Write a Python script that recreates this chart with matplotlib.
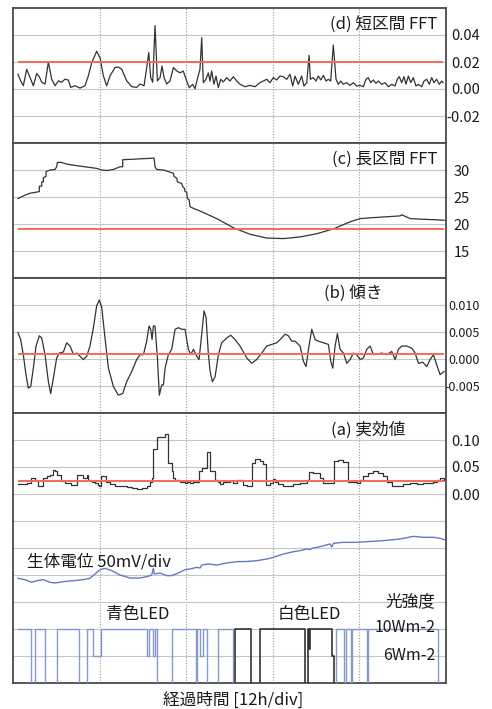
import matplotlib.pyplot as plt

plt.rcParams['font.family'] = ['Noto Sans CJK JP', 'DejaVu Sans']

# elapsed time in hours (12 h per division)
t_d = [0.69, 1.06, 1.43, 1.90, 2.36, 2.82, 3.28, 3.65, 3.98, 4.44, 4.90, 5.36, 5.82, 6.29,
       6.75, 7.21, 7.67, 8.00, 8.60, 9.29, 9.98, 10.44, 10.91, 11.60, 12.06, 12.52, 12.98,
       13.45, 14.14, 14.60, 15.06, 15.76, 16.45, 17.14, 17.60, 18.16, 18.53, 18.81, 19.08,
       19.36, 19.68, 20.01, 20.38, 20.65, 20.93, 21.30, 21.76, 22.22, 22.69, 23.15,
       23.60, 24.07, 24.43, 24.90, 25.22, 25.54, 25.91, 26.15, 26.37, 26.74, 27.06, 27.30,
       27.53, 27.85, 28.13, 28.45, 28.78, 29.14, 29.61, 30.07, 30.53, 31.00, 31.46, 32.15,
       32.84, 33.53, 34.23, 34.68, 35.16, 35.61, 36.07, 36.54, 37.00, 37.46, 37.93, 38.38,
       38.76, 39.08, 39.53, 40.00, 40.32, 40.70, 41.03, 41.20, 41.61, 41.99, 42.31, 42.64,
       43.00, 43.37, 43.69, 44.02, 44.38, 44.76, 45.08, 45.41, 45.77, 46.24, 46.70, 47.16,
       47.63, 48.08, 48.54, 48.92, 49.23, 49.57, 49.93, 50.30, 50.62, 51.09, 51.55, 52.01,
       52.48, 52.93, 53.25, 53.53, 53.86, 54.18, 54.46, 54.78, 55.11, 55.47, 55.84, 56.16,
       56.63, 56.95, 57.33, 57.69, 58.02, 58.34, 58.71, 59.07, 59.40, 59.59]
fft_short = [0.011, 0.006, 0.0025, 0.0146, 0.0085, 0.0024, 0.0115, 0.009, 0.005, 0.0037,
             0.020, 0.0073, 0.0024, 0.006, 0.005, 0.0073, 0.0066, 0.0012, 0.0024, 0.0007,
             0.0024, 0.0098, 0.0195, 0.028, 0.023, 0.0098, 0.0024, 0.0098, 0.0159, 0.0163,
             0.0146, 0.006, 0.0017, 0.0012, 0.0037, 0.0024, 0.0159, 0.027, 0.0085, 0.005,
             0.047, 0.006, 0.0085, 0.017, 0.0085, 0.0037, 0.006, 0.0159, 0.0134, 0.012,
             0.0133, 0.0059, 0.001, 0.0035, 0.0002, 0.0072, 0.0146, 0.038, 0.0047, 0.0072,
             0.012, 0.0059, 0.0133, 0.0035, 0.0096, 0.001, 0.0072, 0.0052, 0.0084, 0.0059,
             0.0091, 0.0059, 0.0035, 0.0017, 0.0027, 0.0017, 0.0047, 0.0059, 0.0072, 0.0047,
             0.0084, 0.0067, 0.0096, 0.0091, 0.0072, 0.0109, 0.0022, 0.0096, 0.0035, 0.0096,
             0.0022, 0.0047, 0.025, 0.0072, 0.0084, 0.0059, 0.0096, 0.0067, 0.0101, 0.0059,
             0.0072, 0.0059, 0.0325, 0.0072, 0.0035, 0.0059, 0.0035, 0.0047, 0.0027, 0.0047,
             0.0022, 0.0027, 0.0017, 0.0072, 0.0084, 0.0047, 0.0067, 0.0042, 0.0059, 0.0035,
             0.0047, 0.0017, 0.0035, 0.0022, 0.0072, 0.0091, 0.0047, 0.0091, 0.0035, 0.0096,
             0.0047, 0.0084, 0.0022, 0.0035, 0.0017, 0.0059, 0.0072, 0.0035, 0.0084, 0.0047,
             0.0072, 0.0035, 0.0059, 0.0047]

t_c = [0.69, 0.97, 1.67, 2.36, 2.82, 3.65, 3.65, 3.98, 3.98, 4.21, 4.21, 4.58, 4.58, 5.13,
       5.82, 6.05, 6.15, 6.75, 7.44, 8.83, 10.21, 11.60, 12.29, 12.98, 13.91, 14.83, 15.20,
       15.20, 16.68, 18.07, 19.54, 19.68, 19.91, 20.84, 21.53, 22.22, 22.32, 22.69, 22.78,
       23.38, 23.52, 23.75, 23.84, 24.07, 24.16, 24.40, 24.53, 25.00, 25.92, 28.23, 30.54,
       32.85, 35.16, 37.47, 39.78, 42.09, 44.40, 46.71, 48.10, 49.02, 51.33, 53.64, 53.87,
       55.03, 56.41, 58.26, 59.74]
fft_long = [24.7, 24.9, 25.35, 25.7, 25.8, 26.0, 27.0, 27.0, 27.8, 27.8, 28.6, 28.8, 29.7,
            30.0, 30.1, 30.6, 31.4, 31.4, 31.1, 30.8, 30.55, 30.3, 30.0, 29.9, 30.1, 30.6,
            30.6, 31.9, 32.0, 32.1, 32.2, 30.6, 30.1, 30.0, 29.7, 29.4, 28.8, 28.5, 27.8,
            27.5, 26.9, 26.6, 26.0, 25.9, 24.7, 24.5, 23.2, 22.9, 22.4, 21.0, 19.3, 18.1,
            17.4, 17.3, 17.6, 18.2, 19.1, 20.4, 21.0, 21.1, 21.3, 21.5, 21.7, 21.0, 20.9,
            20.8, 20.7]

t_b = [0.69, 1.06, 1.43, 1.80, 2.13, 2.45, 2.82, 3.19, 3.65, 3.98, 4.44, 4.90, 5.22, 5.59,
       6.05, 6.42, 6.98, 7.44, 7.90, 8.36, 8.83, 9.29, 9.75, 10.21, 10.67, 11.14, 11.60,
       11.97, 12.29, 12.75, 13.22, 13.91, 14.60, 15.20, 15.76, 16.45, 17.14, 17.60, 18.07,
       18.53, 18.85, 19.08, 19.27, 19.45, 19.68, 20.01, 20.28, 20.61, 20.84, 21.07, 21.53,
       21.99, 22.46, 22.92, 23.38, 23.84, 24.30, 24.63, 25.00, 25.46, 25.78, 26.15, 26.47,
       26.75, 27.08, 27.31, 27.63, 28.00, 28.46, 28.92, 29.62, 30.17, 30.77, 31.46, 32.39,
       33.08, 33.77, 34.47, 35.16, 35.85, 36.55, 37.24, 37.70, 38.16, 38.62, 39.09, 39.78,
       40.24, 40.61, 40.94, 41.40, 41.86, 42.32, 43.01, 43.71, 44.03, 44.31, 44.63, 44.95,
       45.32, 45.79, 46.25, 46.71, 47.17, 47.63, 48.10, 48.56, 49.02, 49.48, 49.94, 50.41,
       51.10, 51.79, 52.49, 52.95, 53.41, 53.87, 54.56, 55.26, 55.72, 56.18, 56.78, 57.34,
       57.80, 58.26, 58.72, 59.18, 59.74]
slope = [0.0049, 0.0036, 0.0008, -0.0029, -0.0054, -0.0051, -0.0017, 0.0024, 0.0043, 0.0039,
         0.0008, -0.0042, -0.0064, -0.0036, 0.0002, 0.0011, 0.0013, 0.003, 0.0024, 0.0009,
         0.0011, 0.0005, -0.0001, 0.0005, 0.0024, 0.0058, 0.0099, 0.0109, 0.0096, 0.0039,
         -0.0017, -0.0051, -0.0067, -0.0064, -0.0042, -0.0023, -0.0001, 0.0008, 0.0008,
         0.0033, 0.0061, 0.0055, 0.0036, 0.0061, 0.0061, 0.0002, -0.0067, -0.0048, -0.0048,
         -0.0017, 0.0008, 0.0018, 0.0055, 0.0058, 0.0055, 0.0055, 0.0018, 0.0008, 0.0018,
         0.0005, -0.0001, 0.0046, 0.0089, 0.0077, 0.0008, -0.0023, -0.0042, -0.0033, 0.0008,
         0.003, 0.0039, 0.0044, 0.0036, 0.0024, 0.0002, -0.0008, -0.0001, 0.0011, 0.0024,
         0.0027, 0.003, 0.0039, 0.0046, 0.0043, 0.0033, 0.0033, 0.0024, -0.0004, -0.0014,
         0.0018, 0.0055, 0.0036, 0.0033, 0.003, 0.0027, -0.0004, -0.0017, 0.0024, 0.0047,
         0.0018, 0.0011, -0.0008, -0.0001, 0.0011, 0.0008, -0.0001, 0.0002, 0.0018, 0.0024,
         0.0008, 0.0009, 0.0011, 0.0008, 0.0014, -0.0001, 0.0018, 0.0024, 0.0024, 0.002,
         0.0011, -0.0008, -0.0006, -0.0014, -0.0001, 0.0008, -0.0011, -0.0029, -0.0023]

t_a = [0.69, 1.90, 2.45, 3.05, 3.51, 4.11, 4.67, 5.13, 5.50, 5.82, 6.15, 6.61, 7.21, 8.00,
       8.83, 8.92, 9.75, 10.21, 10.44, 10.91, 11.37, 11.74, 11.97, 12.20, 12.89, 13.45, 14.14,
       15.06, 15.76, 16.45, 17.14, 17.84, 18.53, 18.99, 19.22, 19.45, 19.91, 21.07, 21.53,
       21.99, 22.22, 22.46, 23.15, 23.84, 24.07, 24.53, 25.00, 25.83, 26.15, 26.84, 27.31,
       28.00, 28.46, 28.69, 29.15, 30.08, 30.54, 31.00, 31.83, 32.39, 33.17, 33.54, 34.24,
       34.70, 35.07, 35.62, 35.99, 36.32, 36.78, 37.47, 38.16, 38.86, 39.78, 40.70, 41.07,
       41.63, 42.32, 42.55, 43.01, 44.49, 45.09, 45.79, 46.48, 47.63, 48.10, 48.56, 49.25,
       49.94, 50.64, 51.33, 51.79, 52.49, 54.10, 55.03, 55.95, 56.87, 58.26, 58.72, 59.18,
       59.74]
rms = [0.019, 0.021, 0.030, 0.026, 0.015, 0.030, 0.033, 0.036, 0.045, 0.042, 0.036, 0.025,
       0.021, 0.017, 0.019, 0.035, 0.030, 0.035, 0.026, 0.023, 0.020, 0.017, 0.015, 0.033,
       0.023, 0.019, 0.015, 0.014, 0.0126, 0.0107, 0.010, 0.012, 0.015, 0.023, 0.030, 0.084,
       0.105, 0.111, 0.058, 0.042, 0.030, 0.026, 0.023, 0.021, 0.023, 0.021, 0.023, 0.042,
       0.048, 0.077, 0.042, 0.026, 0.023, 0.019, 0.023, 0.025, 0.021, 0.026, 0.017, 0.015,
       0.058, 0.065, 0.061, 0.055, 0.017, 0.021, 0.028, 0.023, 0.019, 0.014, 0.015, 0.019,
       0.021, 0.026, 0.040, 0.039, 0.038, 0.030, 0.020, 0.061, 0.063, 0.059, 0.023, 0.020,
       0.026, 0.033, 0.039, 0.042, 0.039, 0.033, 0.023, 0.015, 0.019, 0.020, 0.019, 0.021,
       0.023, 0.026, 0.030, 0.026]

# bio-potential in mV (relative)
t_bio = [0.69, 1.67, 2.59, 3.28, 4.21, 5.13, 5.82, 6.98, 8.36, 9.75, 10.67, 11.37, 12.06,
         12.75, 13.68, 14.83, 16.22, 17.60, 18.53, 19.22, 19.45, 19.59, 20.38, 21.30, 21.99,
         22.92, 23.84, 24.53, 25.46, 25.92, 26.15, 27.08, 28.23, 29.62, 31.00, 32.39, 33.77,
         35.16, 36.08, 37.47, 38.86, 39.78, 40.70, 41.17, 41.40, 42.55, 43.94, 44.17, 44.40,
         45.79, 47.63, 49.02, 51.33, 53.64, 55.49, 56.87, 58.26, 59.18, 59.74]
bio = [43.9, 41.4, 36.4, 39.5, 41.4, 36.4, 35.2, 37.7, 39.5, 41.4, 43.9, 51.9, 59.9, 62.3,
       58.0, 50.0, 44.4, 44.4, 46.9, 50.0, 62.3, 51.9, 53.7, 48.8, 48.8, 53.7, 59.9, 61.1,
       64.2, 63.0, 68.5, 70.4, 68.5, 72.2, 74.7, 75.0, 76.5, 79.6, 82.7, 88.9, 93.2, 95.1,
       98.2, 97.0, 99.4, 102.5, 107.4, 101.9, 108.7, 110.5, 110.5, 111.7, 113.6, 116.7,
       121.6, 119.8, 119.8, 118.0, 115.4]

# light intensity [W/m2], step changes
t_blue = [0.69, 2.45, 3.05, 4.43, 6.14, 9.15, 10.21, 11.13, 12.15, 18.61, 18.89, 19.44,
          19.68, 20.00, 22.07, 25.36, 25.54, 25.91, 26.37, 26.84, 28.45, 30.44, 44.76, 45.87,
          46.15, 46.80, 47.02, 49.01, 49.23, 58.93, 59.59]
blue_led = [10, 0, 10, 0, 10, 0, 10, 6, 10, 6, 10, 6, 10, 0, 10, 0, 10, 6, 10, 0, 10, 0,
            10, 0, 10, 0, 10, 0, 10, 0, 0]
t_white = [0.69, 30.76, 32.94, 34.23, 40.46, 40.88, 41.02, 41.12, 44.25, 44.52, 59.59]
white_led = [0, 10, 0, 10, 0, 10, 7, 10, 6, 0, 0]

thr_d, thr_c, thr_b, thr_a = 0.02, 19.0, 0.001, 0.025

W, H = 492, 709
LINE = '#333333'
RED = '#f26b5b'
SPINE = '#4a4a4a'
TEXT = '#1a1a1a'

fig = plt.figure(figsize=(W / 100, H / 100), dpi=100)


def box(top, bottom):
    return [13 / W, 1 - bottom / H, 433 / W, (bottom - top) / H]


def setup(ax, ylim, ticks, labels, pad, size=10.5):
    ax.set_xlim(0, 60)
    ax.set_ylim(*ylim)
    ax.set_xticks([12, 24, 36, 48])
    ax.tick_params(axis='x', length=0, labelbottom=False)
    ax.xaxis.grid(True, ls=(0, (1, 1.5)), color='#999999', lw=0.8)
    ax.yaxis.tick_right()
    ax.set_yticks(ticks, labels, ha='right')
    ax.tick_params(axis='y', length=0, pad=pad, labelsize=size, colors=TEXT)
    ax.yaxis.grid(True, color='#c6c6c6', lw=0.8)
    ax.set_axisbelow(True)
    for s in ax.spines.values():
        s.set_color(SPINE)
        s.set_linewidth(1.3)


ax_d = fig.add_axes(box(8, 143))
setup(ax_d, (-0.04, 0.06), [-0.02, 0.0, 0.02, 0.04], ['-0.02', '0.00', '0.02', '0.04'], 24.5)
ax_d.plot(t_d, fft_short, color=LINE, lw=0.9)
ax_d.hlines(thr_d, t_d[0], t_d[-1], color=RED, lw=1.4)

ax_c = fig.add_axes(box(143, 278))
setup(ax_c, (10, 35), [15, 20, 25, 30], ['15', '20', '25', '30'], 17.3)
ax_c.plot(t_c, fft_long, color=LINE, lw=0.9)
ax_c.hlines(thr_c, t_c[0], t_c[-1], color=RED, lw=1.4)

ax_b = fig.add_axes(box(278, 413))
setup(ax_b, (-0.01, 0.015), [-0.005, 0.0, 0.005, 0.010],
      ['-0.005', '0.000', '0.005', '0.010'], 24.5, size=9)
ax_b.plot(t_b, slope, color=LINE, lw=0.9)
ax_b.hlines(thr_b, t_b[0], t_b[-1], color=RED, lw=1.4)

# rms panel shares its frame with bio-potential and light intensity
ax_a = fig.add_axes(box(413, 683))
ax_bio = ax_a.twinx()
ax_light = ax_a.twinx()

a_ticks = [-0.30, -0.25, -0.20, -0.15, -0.10, -0.05, 0.0, 0.05, 0.10]
a_labels = ['', '', '', '', '', '', '0.00', '0.05', '0.10']
setup(ax_a, (-0.35, 0.15), a_ticks, a_labels, 24.5)
ax_a.plot(t_a, rms, color=LINE, lw=0.9, drawstyle='steps-post')
ax_a.hlines(thr_a, t_a[0], t_a[-1], color=RED, lw=1.4)

ax_bio.set_ylim(-150, 350)
ax_bio.axis('off')
ax_bio.plot(t_bio, bio, color='#6878c4', lw=1.0)

ax_light.set_ylim(2, 42)
ax_light.axis('off')
ax_light.plot(t_blue, blue_led, color='#8499cc', lw=1.0, drawstyle='steps-post')
ax_light.plot(t_white, white_led, color=LINE, lw=1.2, drawstyle='steps-post')


def label(x, y, s, ha='left', size=12):
    fig.text(x / W, 1 - y / H, s, ha=ha, va='center', fontsize=size, color=TEXT)


label(437, 24, '(d) 短区間 FFT', ha='right')
label(437, 159, '(c) 長区間 FFT', ha='right')
label(383, 293, '(b) 傾き', ha='right')
label(405, 430, '(a) 実効値', ha='right')
label(27, 562, '生体電位 50mV/div')
label(106, 614, '青色LED')
label(278, 614, '白色LED')
label(435, 602, '光強度', ha='right')
label(435, 627, '10Wm-2', ha='right', size=11.5)
label(435, 656, '6Wm-2', ha='right', size=11.5)
label(233, 700, '経過時間 [12h/div]', ha='center')

fig.savefig('out.png', dpi=100)
